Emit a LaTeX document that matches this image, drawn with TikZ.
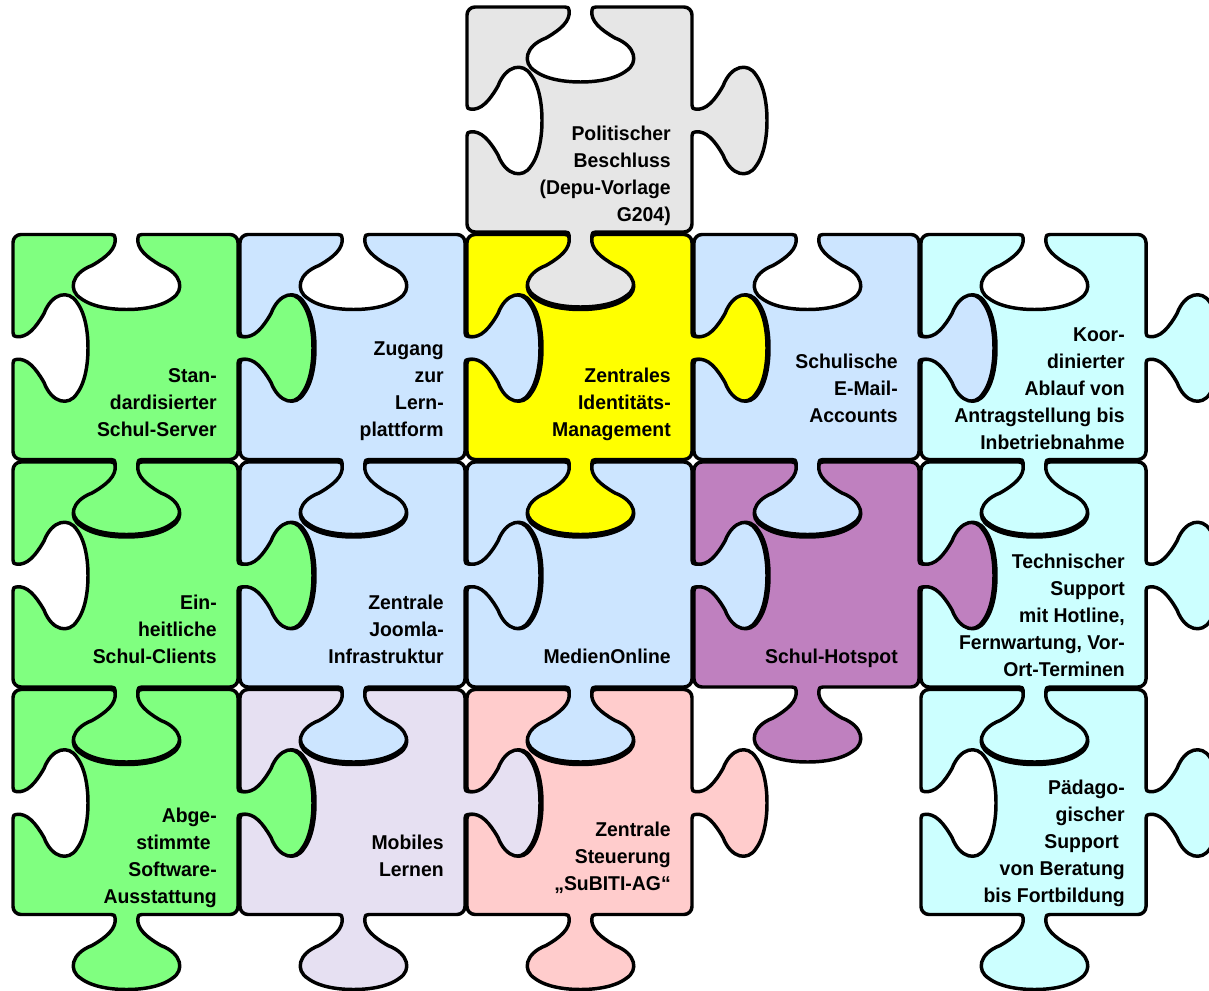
\documentclass[tikz,border=0pt]{standalone}
\usepackage{fontspec}
\setmainfont{Liberation Sans}[FakeStretch=0.97]
\definecolor{cgreen}{HTML}{80FF80}
\definecolor{cblue}{HTML}{CCE5FF}
\definecolor{cyellow}{HTML}{FFFF00}
\definecolor{cgray}{HTML}{E6E6E6}
\definecolor{ccyan}{HTML}{CCFFFF}
\definecolor{cpurple}{HTML}{BF80BF}
\definecolor{clav}{HTML}{E6E0F2}
\definecolor{cpink}{HTML}{FFCCCC}
\newcommand\puzzleoutline{(0,8) .. controls (0,3.6) and (3.6,0) .. (8,0) -- (98,0)
 .. controls (101,0) and (102,1) .. (102,3)
 .. controls (104,14) and (93,23) .. (79,31)
 .. controls (58,39) and (55,56) .. (68,64)
 .. controls (80,73) and (100,75) .. (113.5,75)
 .. controls (127,75) and (147,73) .. (159,64)
 .. controls (172,56) and (169,39) .. (148,31)
 .. controls (134,23) and (123,14) .. (125,3)
 .. controls (125,1) and (126,0) .. (129,0)
 -- (217,0) .. controls (221.4,0) and (225,3.6) .. (225,8)
 -- (225,98)
 .. controls (225,101) and (226,102) .. (228,102)
 .. controls (239,104) and (248,93) .. (256,79)
 .. controls (264,58) and (281,55) .. (289,68)
 .. controls (298,80) and (300,100) .. (300,113.5)
 .. controls (300,127) and (298,147) .. (289,159)
 .. controls (281,172) and (264,169) .. (256,148)
 .. controls (248,134) and (239,123) .. (228,125)
 .. controls (226,125) and (225,126) .. (225,129)
 -- (225,217) .. controls (225,221.4) and (221.4,225) .. (217,225)
 -- (129,225)
 .. controls (126,225) and (125,226) .. (125,228)
 .. controls (123,239) and (134,248) .. (148,256)
 .. controls (169,264) and (172,281) .. (159,289)
 .. controls (147,298) and (127,300) .. (113.5,300)
 .. controls (100,300) and (80,298) .. (68,289)
 .. controls (55,281) and (58,264) .. (79,256)
 .. controls (93,248) and (104,239) .. (102,228)
 .. controls (102,226) and (101,225) .. (98,225)
 -- (8,225) .. controls (3.6,225) and (0,221.4) .. (0,217)
 -- (0,129)
 .. controls (0,126) and (1,125) .. (3,125)
 .. controls (14,123) and (23,134) .. (31,148)
 .. controls (39,169) and (56,172) .. (64,159)
 .. controls (73,147) and (75,127) .. (75,113.5)
 .. controls (75,100) and (73,80) .. (64,68)
 .. controls (56,55) and (39,58) .. (31,79)
 .. controls (23,93) and (14,104) .. (3,102)
 .. controls (1,102) and (0,101) .. (0,98)
 -- cycle}
\newcommand\puzzlepiece[3]{\begin{scope}[shift={(#1,#2)}]\path[piece,fill=#3] \puzzleoutline;\end{scope}}
\tikzset{
  piece/.style={draw=black,line width=2.6pt,line join=round},
  lbl/.style={font=\bfseries\fontsize{15}{20.25}\selectfont,align=right,anchor=base east,inner sep=0pt}
}
\begin{document}
\begin{tikzpicture}[x=0.75pt,y=-0.75pt]
\useasboundingbox (0,0) rectangle (1209,991);
\clip (0,0) rectangle (1209,991);
% row 0
\puzzlepiece{467}{7}{cgray}
% row 1
\puzzlepiece{13}{234.5}{cgreen}
\puzzlepiece{240}{234.5}{cblue}
\puzzlepiece{467}{234.5}{cyellow}
\puzzlepiece{694}{234.5}{cblue}
\puzzlepiece{921}{234.5}{ccyan}
% row 2
\puzzlepiece{13}{462}{cgreen}
\puzzlepiece{240}{462}{cblue}
\puzzlepiece{467}{462}{cblue}
\puzzlepiece{694}{462}{cpurple}
\puzzlepiece{921}{462}{ccyan}
% row 3
\puzzlepiece{13}{689.5}{cgreen}
\puzzlepiece{240}{689.5}{clav}
\puzzlepiece{467}{689.5}{cpink}
\puzzlepiece{921}{689.5}{ccyan}
% labels (anchored at the baseline of the last line)
\node[lbl] (tpol) at (671,222) {Politischer\\Beschluss\\(Depu-Vorlage\\G204)};
\node[lbl] (tsrv) at (217,436) {Stan-\\dardisierter\\Schul-Server};
\node[lbl] (tlern) at (444,436) {Zugang\\zur\\Lern-\\plattform};
\node[lbl] (tidm) at (671,436) {Zentrales\\Identitäts-\\Management};
\node[lbl] (tmail) at (898,422) {Schulische\\E-Mail-\\Accounts};
\node[lbl] (tkoor) at (1125,449) {Koor-\\dinierter\\Ablauf von\\Antragstellung bis\\Inbetriebnahme};
\node[lbl] (tcli) at (217,663) {Ein-\\heitliche\\Schul-Clients};
\node[lbl] (tjoom) at (444,663) {Zentrale\\Joomla-\\Infrastruktur};
\node[lbl] (tmed) at (671,663) {MedienOnline};
\node[lbl] (thot) at (898,663) {Schul-Hotspot};
\node[lbl] (ttec) at (1125,676) {Technischer\\Support\\mit Hotline,\\Fernwartung, Vor-\\Ort-Terminen};
\node[lbl] (tsoft) at (217,903) {Abge-\\stimmte\kern0.3em\\Software-\\Ausstattung};
\node[lbl] (tmob) at (444,876) {Mobiles\\Lernen};
\node[lbl] (tsteu) at (671,890) {Zentrale\\Steuerung\\„SuBITI-AG“};
\node[lbl] (tpaed) at (1125,902) {Pädago-\\gischer\\Support\kern0.3em\\von Beratung\\bis Fortbildung};
\end{tikzpicture}
\end{document}
